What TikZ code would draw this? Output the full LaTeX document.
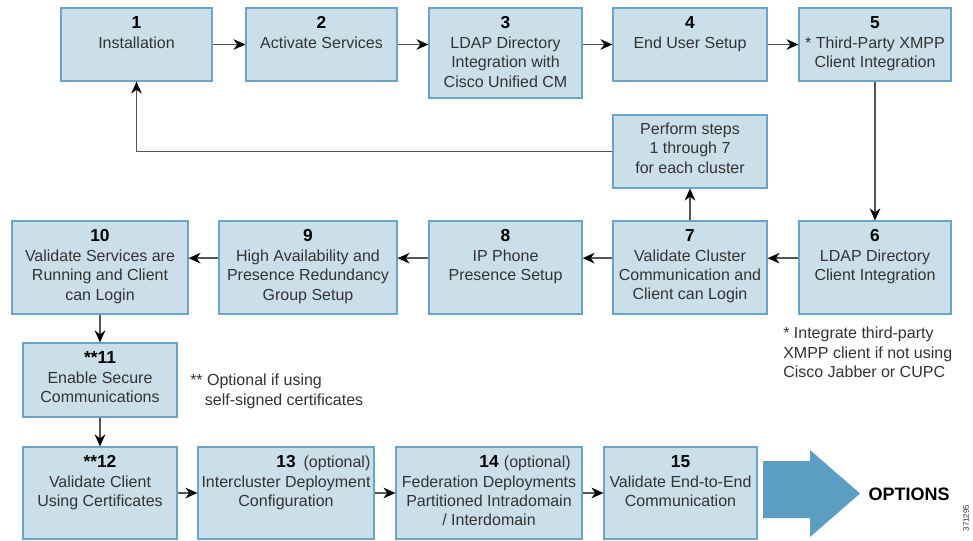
\documentclass[tikz,border=0pt]{standalone}
\usepackage{fontspec}
\setmainfont{Liberation Sans}
\usetikzlibrary{arrows.meta,calc}
\definecolor{boxfill}{HTML}{CADFEA}
\definecolor{boxline}{HTML}{6AA4C6}
\definecolor{arrowfill}{HTML}{5C9DC2}
\definecolor{txtc}{HTML}{333333}
\definecolor{linec}{HTML}{555555}
\newcommand\nm[1]{{\color{black}\fontsize{13}{14.6}\selectfont\bfseries #1}}
\begin{document}
\begin{tikzpicture}[x=0.75pt,y=-0.75pt,
  box/.style 2 args={draw=boxline, fill=boxfill, line width=0.9pt,
    minimum width=#1*0.75pt, minimum height=#2*0.75pt, inner sep=0pt},
  txt/.style={anchor=north, align=center, inner sep=0pt, text=txtc,
    font=\fontsize{12}{14.6}\selectfont},
  note/.style={anchor=north west, align=left, inner sep=0pt, text=txtc,
    font=\fontsize{12}{14.6}\selectfont},
  conn/.style={draw=linec, line width=1pt, -{Stealth[length=9pt,width=8pt,black]}}]
\useasboundingbox (0,0) rectangle (973,541);
% top row
\node[box={151}{73}] (b1) at (136.5,44.5) {};
\node[txt] (t1) at ([yshift=-6.75pt]b1.north) {\nm{1}\\Installation};
\node[box={151}{73}] (b2) at (321.5,44.5) {};
\node[txt] (t2) at ([yshift=-6.75pt]b2.north) {\nm{2}\\Activate Services};
\node[box={153}{90}] (b3) at (505.5,53) {};
\node[txt] (t3) at ([yshift=-6.75pt]b3.north) {\nm{3}\\LDAP Directory\\Integration with\\Cisco Unified CM};
\node[box={154}{73}] (b4) at (690,44.5) {};
\node[txt] (t4) at ([yshift=-6.75pt]b4.north) {\nm{4}\\End User Setup};
\node[box={152}{73}] (b5) at (875,44.5) {};
\node[txt] (t5) at ([yshift=-6.75pt]b5.north) {\nm{5}\\* Third-Party XMPP\\Client Integration};
% perform box
\node[box={154}{73}] (perf) at (690,151.5) {};
\node[txt] (tp) at ([yshift=-6pt]perf.north) {Perform steps\\1 through 7\\for each cluster};
% middle row
\node[box={176}{93}] (b10) at (100,267.5) {};
\node[txt] (t10) at ([yshift=-6.75pt]b10.north) {\nm{10}\\Validate Services are\\Running and Client\\can Login};
\node[box={178}{93}] (b9) at (308,267.5) {};
\node[txt] (t9) at ([yshift=-6.75pt]b9.north) {\nm{9}\\High Availability and\\Presence Redundancy\\Group Setup};
\node[box={153}{93}] (b8) at (505.5,267.5) {};
\node[txt] (t8) at ([yshift=-6.75pt]b8.north) {\nm{8}\\IP Phone\\Presence Setup};
\node[box={154}{93}] (b7) at (690,267.5) {};
\node[txt] (t7) at ([yshift=-6.75pt]b7.north) {\nm{7}\\Validate Cluster\\Communication and\\Client can Login};
\node[box={152}{93}] (b6) at (875,267.5) {};
\node[txt] (t6) at ([yshift=-6.75pt]b6.north) {\nm{6}\\LDAP Directory\\Client Integration};
% left column
\node[box={154}{74}] (b11) at (100,380) {};
\node[txt] (t11) at ([yshift=-6.75pt]b11.north) {\nm{**11}\\Enable Secure\\Communications};
% bottom row
\node[box={154}{92}] (b12) at (100,493) {};
\node[txt] (t12) at ([yshift=-6.75pt]b12.north) {\nm{**12}\\Validate Client\\Using Certificates};
\node[box={176}{92}] (b13) at (286,493) {};
\node[txt] (t13) at ([yshift=-6.75pt]b13.north) {\nm{13}\rlap{\hspace{6pt}(optional)}\\Intercluster Deployment\\Configuration};
\node[box={186}{92}] (b14) at (489,493) {};
\node[txt] (t14) at ([yshift=-6.75pt]b14.north) {\nm{14}\rlap{\hspace{4pt}(optional)}\\Federation Deployments\\Partitioned Intradomain\\/ Interdomain};
\node[box={153}{92}] (b15) at (680.5,493) {};
\node[txt] (t15) at ([yshift=-6.75pt]b15.north) {\nm{15}\\Validate End-to-End\\Communication};
% big arrow and label
\fill[arrowfill] (763,461) -- (810,461) -- (810,450) -- (860,493.5)
  -- (810,537) -- (810,518) -- (763,518) -- cycle;
\node[font=\fontsize{13.5}{14}\selectfont\bfseries, inner sep=0pt] (opt) at (909,494) {OPTIONS};
\node[rotate=90, font=\fontsize{6}{7}\selectfont, inner sep=0pt, text=txtc] (id) at (966,518) {371295};
% notes
\node[note] (n1) at (783,327) {* Integrate third-party\\XMPP client if not using\\Cisco Jabber or CUPC};
\node[note] (n2) at (190,374) {** Optional if using\\\hspace{11pt}self-signed certificates};
% connectors
\draw[conn] (b1.east) -- (b2.west);
\draw[conn] (b2.east) -- (b2.east -| b3.west);
\draw[conn] (b3.east |- b4.west) -- (b4.west);
\draw[conn] (b4.east) -- (b5.west);
\draw[conn] (b5.south) -- (b6.north);
\draw[conn] ([yshift=7pt]b6.west) -- ([yshift=7pt]b7.east);
\draw[conn] ([yshift=7pt]b7.west) -- ([yshift=7pt]b8.east);
\draw[conn] ([yshift=7pt]b8.west) -- ([yshift=7pt]b9.east);
\draw[conn] ([yshift=7pt]b9.west) -- ([yshift=7pt]b10.east);
\draw[conn] (b7.north) -- (perf.south);
\draw[conn] (perf.west) -| (b1.south);
\draw[conn] (b10.south) -- (b11.north);
\draw[conn] (b11.south) -- (b12.north);
\draw[conn] (b12.east) -- (b13.west);
\draw[conn] (b13.east) -- (b14.west);
\draw[conn] (b14.east) -- (b15.west);
\end{tikzpicture}
\end{document}
